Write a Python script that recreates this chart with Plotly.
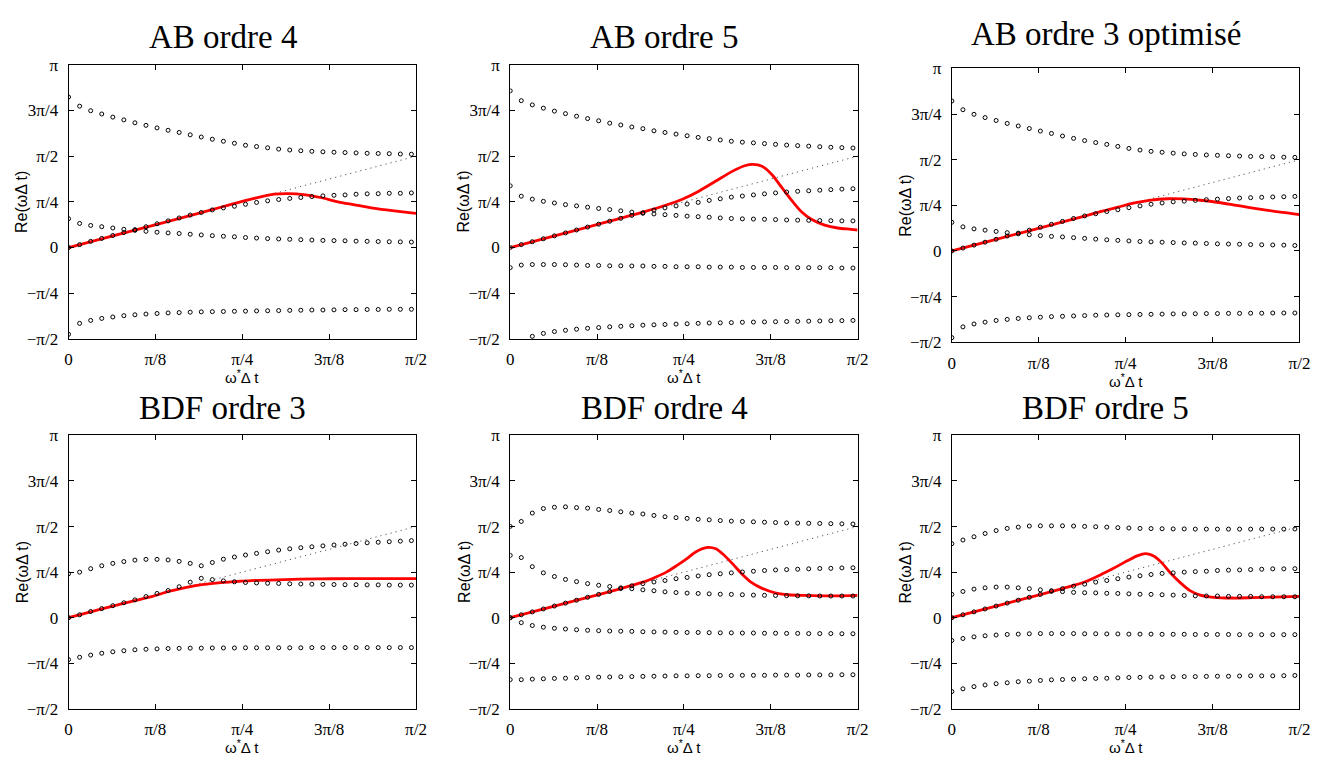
import math
import plotly.graph_objects as go

# ---------------- data (y values in units of pi, x in radians) ----------------
OMEGA_STAR = [0.00, 0.05, 0.10, 0.15, 0.20, 0.25, 0.30, 0.35, 0.40, 0.45,
              0.50, 0.55, 0.60, 0.65, 0.70, 0.75, 0.80, 0.85, 0.90, 0.95,
              1.00, 1.05, 1.10, 1.15, 1.20, 1.25, 1.30, 1.35, 1.40, 1.45,
              1.50, 1.55]

TITLES = ["AB ordre 4", "AB ordre 5", "AB ordre 3 optimisé",
          "BDF ordre 3", "BDF ordre 4", "BDF ordre 5"]

X_TICKS = [0, math.pi / 8, math.pi / 4, 3 * math.pi / 8, math.pi / 2]
X_TICK_TEXT = ["0", "π/8", "π/4", "3π/8", "π/2"]
Y_TICKS = [-0.5, -0.25, 0, 0.25, 0.5, 0.75, 1.0]
Y_TICK_TEXT = ["−π/2", "−π/4", "0", "π/4", "π/2", "3π/4", "π"]

DIAG_X = [0.0, 1.5708]
DIAG_Y = [0.0, 0.5]

# AB ordre 4
AB4_R1 = [0.824, 0.774, 0.749, 0.731, 0.714, 0.699, 0.683, 0.669, 0.655, 0.642,
          0.630, 0.617, 0.605, 0.593, 0.582, 0.571, 0.560, 0.553, 0.546, 0.539,
          0.534, 0.530, 0.527, 0.524, 0.522, 0.520, 0.518, 0.516, 0.515, 0.514,
          0.512, 0.511]
AB4_R2 = [0.000, 0.016, 0.034, 0.050, 0.066, 0.082, 0.098, 0.114, 0.130, 0.146,
          0.162, 0.178, 0.192, 0.206, 0.217, 0.226, 0.237, 0.247, 0.256, 0.263,
          0.269, 0.274, 0.279, 0.283, 0.286, 0.288, 0.292, 0.294, 0.295, 0.297,
          0.297, 0.299]
AB4_R3 = [0.158, 0.132, 0.121, 0.114, 0.107, 0.100, 0.094, 0.089, 0.084, 0.080,
          0.077, 0.073, 0.069, 0.065, 0.062, 0.059, 0.055, 0.052, 0.049, 0.047,
          0.045, 0.043, 0.041, 0.039, 0.038, 0.037, 0.035, 0.034, 0.033, 0.032,
          0.031, 0.030]
AB4_R4 = [-0.475, -0.415, -0.399, -0.388, -0.380, -0.373, -0.368, -0.364, -0.361, -0.358,
          -0.356, -0.354, -0.352, -0.351, -0.350, -0.349, -0.348, -0.347, -0.346, -0.345,
          -0.344, -0.343, -0.342, -0.342, -0.341, -0.340, -0.340, -0.339, -0.339, -0.338,
          -0.338, -0.338]
AB4_RED_X = [0.0, 0.2, 0.4, 0.6, 0.692, 0.840, 0.930, 0.990, 1.064, 1.139,
             1.213, 1.288, 1.362, 1.437, 1.511, 1.571]
AB4_RED_Y = [0.0, 0.064, 0.127, 0.191, 0.222, 0.269, 0.292, 0.295, 0.290, 0.274,
             0.252, 0.235, 0.219, 0.206, 0.195, 0.187]

# AB ordre 5
AB5_R1 = [0.858, 0.804, 0.781, 0.763, 0.747, 0.733, 0.719, 0.706, 0.694, 0.681,
          0.671, 0.660, 0.651, 0.639, 0.630, 0.621, 0.612, 0.603, 0.596, 0.589,
          0.582, 0.577, 0.573, 0.569, 0.565, 0.561, 0.558, 0.555, 0.552, 0.549,
          0.547, 0.545]
AB5_R2 = [0.338, 0.281, 0.265, 0.253, 0.244, 0.235, 0.228, 0.221, 0.214, 0.208,
          0.201, 0.194, 0.188, 0.184, 0.180, 0.176, 0.172, 0.169, 0.166, 0.162,
          0.159, 0.157, 0.156, 0.155, 0.153, 0.151, 0.150, 0.149, 0.148, 0.147,
          0.146, 0.146]
AB5_R3 = [0.000, 0.016, 0.032, 0.048, 0.064, 0.080, 0.096, 0.112, 0.128, 0.144,
          0.160, 0.176, 0.190, 0.205, 0.217, 0.228, 0.238, 0.247, 0.258, 0.267,
          0.276, 0.282, 0.288, 0.294, 0.299, 0.304, 0.308, 0.311, 0.314, 0.317,
          0.320, 0.322]
AB5_R4 = [-0.110, -0.096, -0.093, -0.093, -0.093, -0.094, -0.096, -0.098, -0.098, -0.100,
          -0.100, -0.101, -0.101, -0.103, -0.103, -0.105, -0.105, -0.105, -0.107, -0.107,
          -0.107, -0.109, -0.109, -0.109, -0.109, -0.110, -0.110, -0.110, -0.110, -0.110,
          -0.112, -0.112]
AB5_R5 = [-0.600, -0.530, -0.486, -0.470, -0.460, -0.453, -0.447, -0.442, -0.438, -0.434,
          -0.431, -0.428, -0.425, -0.423, -0.421, -0.419, -0.417, -0.415, -0.413, -0.412,
          -0.411, -0.409, -0.408, -0.407, -0.406, -0.405, -0.404, -0.403, -0.402, -0.401,
          -0.400, -0.399]
AB5_RED_X = [0.0, 0.2, 0.4, 0.6, 0.706, 0.781, 0.855, 0.930, 1.004, 1.064, 1.097,
             1.139, 1.183, 1.228, 1.273, 1.317, 1.362, 1.422, 1.481, 1.541, 1.571]
AB5_RED_Y = [0.0, 0.064, 0.128, 0.194, 0.233, 0.266, 0.310, 0.364, 0.417, 0.449, 0.455,
             0.445, 0.400, 0.329, 0.258, 0.196, 0.155, 0.123, 0.107, 0.100, 0.096]

# AB ordre 3 optimise
AB3_R1 = [0.822, 0.774, 0.749, 0.731, 0.715, 0.699, 0.685, 0.671, 0.657, 0.644,
          0.630, 0.617, 0.605, 0.594, 0.584, 0.573, 0.562, 0.553, 0.546, 0.541,
          0.536, 0.532, 0.529, 0.526, 0.524, 0.522, 0.520, 0.518, 0.517, 0.516,
          0.514, 0.513]
AB3_R2 = [0.157, 0.132, 0.121, 0.114, 0.107, 0.100, 0.094, 0.089, 0.084, 0.080,
          0.077, 0.073, 0.069, 0.065, 0.061, 0.058, 0.055, 0.052, 0.050, 0.048,
          0.046, 0.044, 0.043, 0.041, 0.039, 0.038, 0.037, 0.035, 0.034, 0.033,
          0.032, 0.030]
AB3_R3 = [0.000, 0.016, 0.032, 0.048, 0.064, 0.082, 0.098, 0.114, 0.130, 0.146,
          0.162, 0.178, 0.192, 0.204, 0.216, 0.226, 0.237, 0.247, 0.256, 0.263,
          0.269, 0.273, 0.277, 0.281, 0.284, 0.287, 0.290, 0.292, 0.294, 0.296,
          0.297, 0.299]
AB3_R4 = [-0.475, -0.416, -0.400, -0.390, -0.381, -0.375, -0.370, -0.366, -0.363, -0.360,
          -0.358, -0.356, -0.354, -0.352, -0.351, -0.350, -0.349, -0.348, -0.347, -0.346,
          -0.345, -0.345, -0.344, -0.343, -0.343, -0.342, -0.342, -0.341, -0.341, -0.340,
          -0.340, -0.340]
AB3_RED_X = [0.0, 0.2, 0.4, 0.6, 0.676, 0.750, 0.825, 0.899, 0.974, 1.048,
             1.122, 1.197, 1.271, 1.346, 1.420, 1.494, 1.571]
AB3_RED_Y = [0.0, 0.064, 0.127, 0.191, 0.217, 0.240, 0.263, 0.279, 0.286, 0.285,
             0.278, 0.267, 0.253, 0.238, 0.224, 0.211, 0.199]

# BDF ordre 3
BDF3_R1 = [0.241, 0.250, 0.269, 0.285, 0.298, 0.308, 0.316, 0.320, 0.320, 0.317,
           0.309, 0.298, 0.285, 0.303, 0.321, 0.333, 0.344, 0.353, 0.362, 0.371,
           0.378, 0.384, 0.389, 0.394, 0.399, 0.403, 0.407, 0.411, 0.414, 0.417,
           0.420, 0.423]
BDF3_R2 = [0.000, 0.016, 0.034, 0.050, 0.066, 0.082, 0.098, 0.116, 0.133, 0.149,
           0.170, 0.195, 0.216, 0.209, 0.202, 0.197, 0.193, 0.191, 0.189, 0.188,
           0.186, 0.185, 0.184, 0.183, 0.182, 0.181, 0.181, 0.180, 0.180, 0.179,
           0.179, 0.179]
BDF3_R3 = [-0.230, -0.217, -0.205, -0.195, -0.187, -0.181, -0.176, -0.173, -0.171, -0.169,
           -0.168, -0.167, -0.167, -0.166, -0.166, -0.166, -0.165, -0.165, -0.165, -0.165,
           -0.165, -0.165, -0.164, -0.164, -0.164, -0.164, -0.164, -0.164, -0.164, -0.164,
           -0.164, -0.164]
BDF3_RED_X = [0.0, 0.1, 0.2, 0.3, 0.379, 0.453, 0.528, 0.602, 0.677, 0.751,
              0.826, 0.975, 1.124, 1.273, 1.422, 1.571]
BDF3_RED_Y = [0.0, 0.032, 0.064, 0.094, 0.117, 0.144, 0.165, 0.181, 0.191, 0.198,
              0.204, 0.209, 0.213, 0.214, 0.214, 0.214]

# BDF ordre 4
BDF4_R1 = [0.501, 0.528, 0.574, 0.599, 0.606, 0.608, 0.604, 0.601, 0.594, 0.588,
           0.581, 0.574, 0.569, 0.561, 0.554, 0.549, 0.545, 0.540, 0.537, 0.533,
           0.530, 0.528, 0.526, 0.524, 0.522, 0.520, 0.519, 0.518, 0.517, 0.516,
           0.515, 0.514]
BDF4_R2 = [0.342, 0.330, 0.280, 0.246, 0.226, 0.210, 0.198, 0.187, 0.178, 0.171,
           0.164, 0.159, 0.153, 0.148, 0.142, 0.138, 0.135, 0.133, 0.131, 0.129,
           0.128, 0.126, 0.124, 0.123, 0.122, 0.121, 0.120, 0.120, 0.119, 0.119,
           0.119, 0.119]
BDF4_R3 = [0.000, 0.016, 0.032, 0.048, 0.064, 0.080, 0.096, 0.112, 0.128, 0.144,
           0.160, 0.175, 0.187, 0.196, 0.204, 0.214, 0.221, 0.229, 0.236, 0.241,
           0.246, 0.251, 0.255, 0.259, 0.262, 0.264, 0.266, 0.268, 0.270, 0.271,
           0.273, 0.274]
BDF4_R4 = [0.000, -0.027, -0.043, -0.052, -0.058, -0.062, -0.066, -0.069, -0.071, -0.073,
           -0.074, -0.075, -0.077, -0.078, -0.079, -0.080, -0.081, -0.081, -0.082, -0.083,
           -0.083, -0.084, -0.084, -0.085, -0.085, -0.086, -0.086, -0.087, -0.087, -0.087,
           -0.088, -0.088]
BDF4_R5 = [-0.340, -0.340, -0.337, -0.335, -0.333, -0.332, -0.330, -0.328, -0.326, -0.325,
           -0.324, -0.323, -0.322, -0.321, -0.320, -0.319, -0.319, -0.318, -0.318, -0.317,
           -0.317, -0.316, -0.316, -0.316, -0.315, -0.315, -0.315, -0.314, -0.314, -0.314,
           -0.313, -0.313]
BDF4_RED_X = [0.0, 0.2, 0.4, 0.5, 0.6, 0.662, 0.706, 0.751, 0.796, 0.840, 0.893,
              0.930, 0.960, 1.004, 1.049, 1.094, 1.139, 1.198, 1.258, 1.332, 1.407,
              1.490, 1.571]
BDF4_RED_Y = [0.0, 0.064, 0.127, 0.160, 0.195, 0.225, 0.250, 0.284, 0.321, 0.362, 0.386,
              0.378, 0.351, 0.298, 0.239, 0.191, 0.161, 0.136, 0.126, 0.122, 0.120,
              0.120, 0.122]

# BDF ordre 5
BDF5_R1 = [0.406, 0.426, 0.444, 0.462, 0.478, 0.490, 0.497, 0.503, 0.504, 0.504,
           0.504, 0.503, 0.501, 0.499, 0.497, 0.494, 0.492, 0.490, 0.489, 0.488,
           0.487, 0.487, 0.486, 0.486, 0.486, 0.486, 0.486, 0.486, 0.486, 0.486,
           0.486, 0.487]
BDF5_R2 = [0.128, 0.144, 0.157, 0.164, 0.168, 0.168, 0.164, 0.159, 0.153, 0.148,
           0.143, 0.139, 0.137, 0.136, 0.134, 0.133, 0.131, 0.129, 0.128, 0.126,
           0.124, 0.122, 0.120, 0.119, 0.119, 0.117, 0.117, 0.117, 0.115, 0.115,
           0.115, 0.115]
BDF5_R3 = [0.000, 0.016, 0.032, 0.048, 0.064, 0.080, 0.096, 0.112, 0.128, 0.145,
           0.159, 0.173, 0.184, 0.195, 0.204, 0.214, 0.223, 0.230, 0.237, 0.243,
           0.246, 0.250, 0.253, 0.255, 0.259, 0.261, 0.262, 0.264, 0.266, 0.268,
           0.268, 0.269]
BDF5_R4 = [-0.125, -0.114, -0.105, -0.099, -0.095, -0.092, -0.090, -0.088, -0.087, -0.087,
           -0.087, -0.087, -0.088, -0.088, -0.089, -0.089, -0.090, -0.090, -0.090, -0.091,
           -0.091, -0.091, -0.092, -0.092, -0.092, -0.092, -0.093, -0.093, -0.093, -0.093,
           -0.093, -0.093]
BDF5_R5 = [-0.405, -0.390, -0.378, -0.369, -0.362, -0.357, -0.351, -0.348, -0.344, -0.341,
           -0.339, -0.337, -0.335, -0.333, -0.332, -0.330, -0.328, -0.327, -0.326, -0.325,
           -0.324, -0.323, -0.323, -0.322, -0.321, -0.321, -0.320, -0.319, -0.319, -0.319,
           -0.318, -0.317]
BDF5_RED_X = [0.0, 0.2, 0.4, 0.5, 0.55, 0.6, 0.676, 0.735, 0.795, 0.840, 0.877,
              0.914, 0.951, 0.988, 1.033, 1.078, 1.122, 1.182, 1.271, 1.360, 1.450,
              1.571]
BDF5_RED_Y = [0.0, 0.064, 0.127, 0.160, 0.177, 0.196, 0.238, 0.274, 0.314, 0.341, 0.351,
              0.337, 0.298, 0.245, 0.191, 0.147, 0.124, 0.112, 0.108, 0.110, 0.113,
              0.117]

PANELS = [
    ([AB4_R1, AB4_R2, AB4_R3, AB4_R4], AB4_RED_X, AB4_RED_Y),
    ([AB5_R1, AB5_R2, AB5_R3, AB5_R4, AB5_R5], AB5_RED_X, AB5_RED_Y),
    ([AB3_R1, AB3_R2, AB3_R3, AB3_R4], AB3_RED_X, AB3_RED_Y),
    ([BDF3_R1, BDF3_R2, BDF3_R3], BDF3_RED_X, BDF3_RED_Y),
    ([BDF4_R1, BDF4_R2, BDF4_R3, BDF4_R4, BDF4_R5], BDF4_RED_X, BDF4_RED_Y),
    ([BDF5_R1, BDF5_R2, BDF5_R3, BDF5_R4, BDF5_R5], BDF5_RED_X, BDF5_RED_Y),
]

# ---------------- layout geometry (pixels) ----------------
W, H = 1327, 764
# (left, right, top, bottom) of each plot frame in pixels
FRAMES = [
    (65.3, 416.7, 57.3, 338.3),
    (512.0, 863.3, 57.3, 338.3),
    (958.7, 1310.3, 61.0, 341.7),
    (65.3, 416.7, 437.3, 717.7),
    (512.0, 863.3, 437.3, 717.7),
    (958.7, 1310.3, 437.3, 717.7),
]
TITLE_Y = [28.3, 28.3, 25.5, 408.7, 408.7, 408.7]

fig = go.Figure()
layout = dict(
    width=W, height=H, margin=dict(l=0, r=0, t=0, b=0),
    paper_bgcolor="white", plot_bgcolor="white", showlegend=False,
)
annotations = []

for i, ((roots, rx, ry), (l, r, t, b)) in enumerate(zip(PANELS, FRAMES)):
    n = i + 1
    xa = "x" if n == 1 else f"x{n}"
    ya = "y" if n == 1 else f"y{n}"
    # diagonal reference
    fig.add_trace(go.Scatter(x=DIAG_X, y=DIAG_Y, mode="lines", xaxis=xa, yaxis=ya,
                             line=dict(color="#555555", width=1, dash="1.2px,4px"),
                             hoverinfo="skip"))
    # red curve
    fig.add_trace(go.Scatter(x=rx, y=ry, mode="lines", xaxis=xa, yaxis=ya,
                             line=dict(color="#ff0000", width=2.8, shape="spline",
                                       smoothing=0.8),
                             hoverinfo="skip"))
    # roots
    for root in roots:
        fig.add_trace(go.Scatter(x=OMEGA_STAR, y=root, mode="markers", xaxis=xa, yaxis=ya,
                                 marker=dict(symbol="circle-open", size=4,
                                             color="black", line=dict(width=1, color="black")),
                                 hoverinfo="skip"))

    axis_common = dict(showline=True, linecolor="black", linewidth=1, mirror="ticks",
                       ticks="inside", ticklen=5, tickwidth=1, tickcolor="black",
                       showgrid=False, zeroline=False,
                       tickfont=dict(family="Liberation Serif", size=17, color="black"))
    layout["xaxis" if n == 1 else f"xaxis{n}"] = dict(
        axis_common, domain=[l / W, r / W], range=[0, math.pi / 2],
        tickvals=X_TICKS, ticktext=X_TICK_TEXT, anchor=ya, ticklabelstandoff=5)
    layout["yaxis" if n == 1 else f"yaxis{n}"] = dict(
        axis_common, domain=[1 - b / H, 1 - t / H], range=[-0.5, 1.0],
        tickvals=Y_TICKS, ticktext=Y_TICK_TEXT, anchor=xa, ticklabelstandoff=6)

    cx = (l + r) / 2
    annotations.append(dict(text=TITLES[i], x=(cx - 20) / W, y=1 - TITLE_Y[i] / H,
                            xref="paper", yref="paper", xanchor="center", yanchor="middle",
                            showarrow=False,
                            font=dict(family="Liberation Serif", size=33, color="black")))
    annotations.append(dict(text="Re(ωΔ t)", x=(l - 47) / W, y=1 - ((t + b) / 2) / H,
                            xref="paper", yref="paper", xanchor="center", yanchor="middle",
                            textangle=-90, showarrow=False,
                            font=dict(family="Liberation Sans", size=16, color="black")))
    annotations.append(dict(text="ω<sup>*</sup>Δ t", x=cx / W, y=1 - (b + 39) / H,
                            xref="paper", yref="paper", xanchor="center", yanchor="middle",
                            showarrow=False,
                            font=dict(family="Liberation Sans", size=15, color="black")))

layout["annotations"] = annotations
fig.update_layout(**layout)
fig.write_html("out.html")
